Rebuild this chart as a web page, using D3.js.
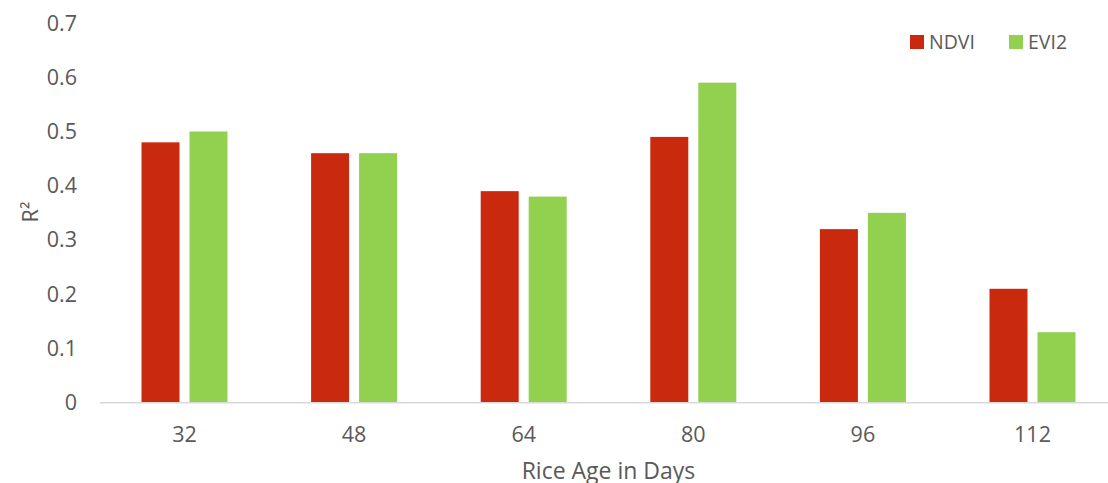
<!DOCTYPE html>
<html>
<head>
<meta charset="utf-8">
<script src="https://cdn.jsdelivr.net/npm/d3@7"></script>
<style>
  body { margin: 0; background: #fff; }
  text { font-family: "Open Sans", sans-serif; fill: #595959; }
</style>
</head>
<body>
<div id="chart"></div>
<script>
// chart data
const days = ["32", "48", "64", "80", "96", "112"];
const seriesNames = ["NDVI", "EVI2"];
const ndvi = [0.48, 0.46, 0.39, 0.49, 0.32, 0.21];
const evi2 = [0.50, 0.46, 0.38, 0.59, 0.35, 0.13];
const yTicks = [0, 0.1, 0.2, 0.3, 0.4, 0.5, 0.6, 0.7];
const colors = { NDVI: "#C92A0E", EVI2: "#92D050" };

const width = 1108, height = 483;

const svg = d3.select("#chart").append("svg")
    .attr("width", width)
    .attr("height", height);

// scales
const x0 = d3.scaleBand().domain(days).range([99.7, 1117.3]).padding(0);
const step = x0.step();
const x1 = d3.scaleBand().domain(seriesNames)
    .range([step / 2 - 43, step / 2 + 43])
    .paddingInner(10 / 48).paddingOuter(0);
const y = d3.scaleLinear().domain([0, 0.7]).range([402.7, 23]);

// y tick labels (no gridlines)
svg.append("g")
    .selectAll("text")
    .data(yTicks)
    .enter().append("text")
    .attr("x", 77)
    .attr("y", d => y(d))
    .attr("dy", "0.35em")
    .attr("text-anchor", "end")
    .style("font-size", "21.5px")
    .text(d => d === 0 ? "0" : d3.format(".1f")(d));

// bars
const rows = days.map((d, i) => ({ day: d, NDVI: ndvi[i], EVI2: evi2[i] }));
const groups = svg.append("g").selectAll("g")
    .data(rows)
    .enter().append("g")
    .attr("transform", d => `translate(${x0(d.day)},0)`);

groups.selectAll("rect")
    .data(d => seriesNames.map(s => ({ key: s, value: d[s] })))
    .enter().append("rect")
    .attr("x", d => x1(d.key))
    .attr("width", x1.bandwidth())
    .attr("y", d => y(d.value))
    .attr("height", d => y(0) - y(d.value))
    .attr("fill", d => colors[d.key]);

// x axis line
svg.append("line")
    .attr("x1", 99.7).attr("x2", 1117.3)
    .attr("y1", y(0)).attr("y2", y(0))
    .attr("stroke", "#d9d9d9")
    .attr("stroke-width", 1.5);

// x tick labels
svg.append("g")
    .selectAll("text")
    .data(days)
    .enter().append("text")
    .attr("x", d => x0(d) + step / 2)
    .attr("y", 441.5)
    .attr("text-anchor", "middle")
    .style("font-size", "21.5px")
    .text(d => d);

// axis titles
svg.append("text")
    .attr("x", (99.7 + 1117.3) / 2)
    .attr("y", 479)
    .attr("text-anchor", "middle")
    .style("font-size", "23px")
    .text("Rice Age in Days");

svg.append("text")
    .attr("transform", "translate(38,212) rotate(-90)")
    .attr("text-anchor", "middle")
    .style("font-size", "21.5px")
    .text("R²");

// legend
const legendX = [910, 1009];
const legend = svg.append("g").selectAll("g")
    .data(seriesNames)
    .enter().append("g")
    .attr("transform", (d, i) => `translate(${legendX[i]},35)`);

legend.append("rect")
    .attr("width", 14).attr("height", 14)
    .attr("fill", d => colors[d]);

legend.append("text")
    .attr("x", 19)
    .attr("y", 7)
    .attr("dy", "0.35em")
    .style("font-size", "19.5px")
    .text(d => d);
</script>
</body>
</html>
